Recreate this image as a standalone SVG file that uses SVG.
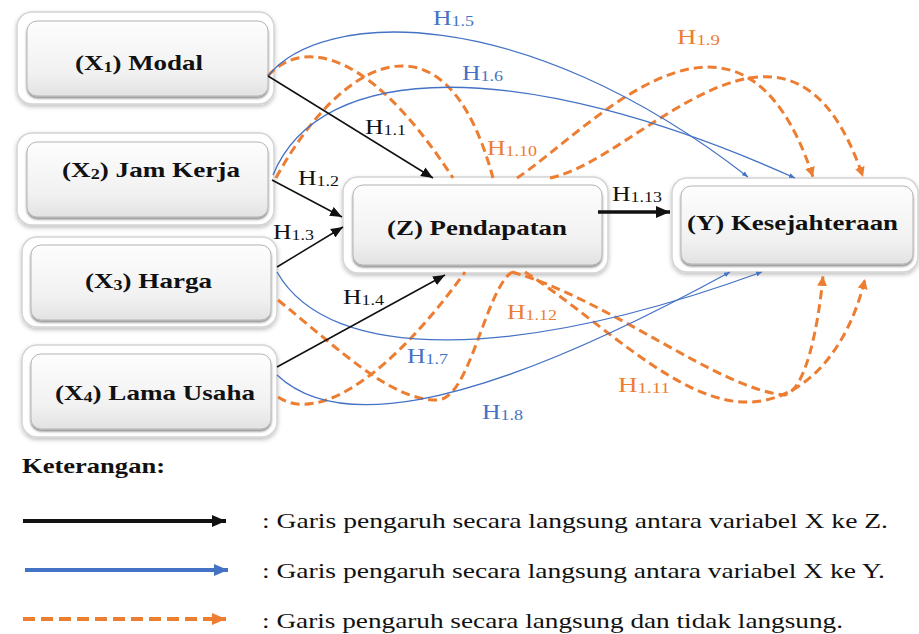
<svg xmlns="http://www.w3.org/2000/svg" width="919" height="634" viewBox="0 0 919 634">
<style>
.outer{fill:#fff;stroke:#d4d4d4;stroke-width:1.5;filter:url(#sh)}
.inner{fill:url(#gr);stroke:#b5b5b5;stroke-width:1;filter:url(#sh2)}
text{font-family:'Liberation Serif','DejaVu Serif','Noto Serif',serif}
.nl{font-weight:bold;font-size:21px;fill:#111}
.lb{font-size:20px}
.k{fill:#111}.b{fill:#4472C4}.o{fill:#ED7D31}
.ek{fill:none;stroke:#111;stroke-width:1.5}
.eb{fill:none;stroke:#4472C4;stroke-width:1.3}
.eo{fill:none;stroke:#ED7D31;stroke-width:3;stroke-dasharray:9 5}
.lg{font-size:22px;fill:#111}
</style>
<defs>
<linearGradient id="gr" x1="0" y1="0" x2="0" y2="1">
<stop offset="0" stop-color="#fdfdfd"/><stop offset="0.7" stop-color="#f1f1f1"/><stop offset="1" stop-color="#e2e2e2"/>
</linearGradient>
<filter id="sh" x="-10%" y="-10%" width="120%" height="130%"><feDropShadow dx="0" dy="2" stdDeviation="2" flood-color="#000" flood-opacity="0.25"/></filter>
<filter id="sh2" x="-10%" y="-10%" width="120%" height="130%"><feDropShadow dx="0" dy="2" stdDeviation="1" flood-color="#000" flood-opacity="0.45"/></filter>
<marker id="ak" markerUnits="userSpaceOnUse" markerWidth="12" markerHeight="10" refX="12" refY="5" orient="auto"><path d="M0,0 L12,5 L0,10 z" fill="#111"/></marker>
<marker id="akB" markerUnits="userSpaceOnUse" markerWidth="14" markerHeight="12" refX="14" refY="6" orient="auto"><path d="M0,0 L14,6 L0,12 z" fill="#111"/></marker>
<marker id="ab" markerUnits="userSpaceOnUse" markerWidth="6" markerHeight="5" refX="6" refY="2.5" orient="auto"><path d="M0,0 L6,2.5 L0,5 z" fill="#4472C4"/></marker>
<marker id="abB" markerUnits="userSpaceOnUse" markerWidth="14" markerHeight="12" refX="14" refY="6" orient="auto"><path d="M0,0 L14,6 L0,12 z" fill="#4472C4"/></marker>
<marker id="ao" markerUnits="userSpaceOnUse" markerWidth="10" markerHeight="10" refX="10" refY="5" orient="auto"><path d="M0,0 L10,5 L0,10 z" fill="#ED7D31"/></marker>
<marker id="aoB" markerUnits="userSpaceOnUse" markerWidth="14" markerHeight="12" refX="14" refY="6" orient="auto"><path d="M0,0 L14,6 L0,12 z" fill="#ED7D31"/></marker>
</defs>

<g id="nodeX1"><rect class="outer" x="17" y="12" width="257" height="92" rx="15"/><rect class="inner" x="27" y="21" width="241" height="75" rx="10"/>
<text class="nl" x="75" y="70" textLength="128" lengthAdjust="spacingAndGlyphs">(X<tspan font-size="14" dy="2">1</tspan><tspan dy="-2">) Modal</tspan></text></g>
<g id="nodeX2"><rect class="outer" x="17" y="133" width="257" height="92" rx="15"/><rect class="inner" x="27" y="142" width="241" height="75" rx="10"/>
<text class="nl" x="62" y="177" textLength="178" lengthAdjust="spacingAndGlyphs">(X<tspan font-size="14" dy="2">2</tspan><tspan dy="-2">) Jam Kerja</tspan></text></g>
<g id="nodeX3"><rect class="outer" x="22" y="237" width="255" height="90" rx="15"/><rect class="inner" x="31" y="245" width="240" height="75" rx="10"/>
<text class="nl" x="85" y="288" textLength="127" lengthAdjust="spacingAndGlyphs">(X<tspan font-size="14" dy="2">3</tspan><tspan dy="-2">) Harga</tspan></text></g>
<g id="nodeX4"><rect class="outer" x="22" y="345" width="255" height="92" rx="15"/><rect class="inner" x="31" y="354" width="240" height="75" rx="10"/>
<text class="nl" x="55" y="400" textLength="200" lengthAdjust="spacingAndGlyphs">(X<tspan font-size="14" dy="2">4</tspan><tspan dy="-2">) Lama Usaha</tspan></text></g>
<g id="nodeZ"><rect class="outer" x="343" y="177" width="265" height="96" rx="15"/><rect class="inner" x="353" y="185" width="249" height="80" rx="10"/>
<text class="nl" x="387" y="235" textLength="180" lengthAdjust="spacingAndGlyphs">(Z) Pendapatan</text></g>
<g id="nodeY"><rect class="outer" x="672" y="178" width="246" height="94" rx="15"/><rect class="inner" x="681" y="186" width="232" height="78" rx="10"/>
<text class="nl" x="687" y="230" textLength="211" lengthAdjust="spacingAndGlyphs">(Y) Kesejahteraan</text></g>

<g id="connectors">
<path class="eo" d="M268,76 C295,45 360,35 453,178"/>
<path class="eo" d="M276,178 C340,60 445,0 493,178"/>
<path class="eo" d="M517,178 C590,130 740,-45 813,177" marker-end="url(#ao)"/>
<path class="eo" d="M550,178 C640,160 790,-40 863,177" marker-end="url(#ao)"/>
<path class="eo" d="M278,300 C340,350 390,400 437,400 C470,400 485,290 512,272"/>
<path class="eo" d="M278,397 C320,425 395,370 465,272"/>
<path class="eo" d="M512,272 C610,300 720,390 785,395 C805,390 818,330 823,276" marker-end="url(#ao)"/>
<path class="eo" d="M525,272 C600,320 680,405 750,402 C805,400 848,350 865,279" marker-end="url(#ao)"/>
<path class="eb" d="M268,76 C320,10 520,0 748,177" marker-end="url(#ab)"/>
<path class="eb" d="M273,175 C320,60 520,55 795,178" marker-end="url(#ab)"/>
<path class="eb" d="M277,272 C330,365 520,360 762,272" marker-end="url(#ab)"/>
<path class="eb" d="M277,375 C330,425 450,425 730,272" marker-end="url(#ab)"/>
<path class="ek" d="M268,76 L433,178" marker-end="url(#ak)"/>
<path class="ek" d="M272,180 L342,217" marker-end="url(#ak)"/>
<path class="ek" d="M277,267 L343,227" marker-end="url(#ak)"/>
<path class="ek" d="M277,367 L445,275" marker-end="url(#ak)"/>
<path class="ek" d="M598,212 L670,212" style="stroke-width:3.5" marker-end="url(#akB)"/>
<text class="lb k" x="365" y="134" textLength="41" lengthAdjust="spacingAndGlyphs">H<tspan font-size="14" dy="1">1.1</tspan></text>
<text class="lb k" x="298" y="185" textLength="41" lengthAdjust="spacingAndGlyphs">H<tspan font-size="14" dy="1">1.2</tspan></text>
<text class="lb k" x="273" y="239" textLength="41" lengthAdjust="spacingAndGlyphs">H<tspan font-size="14" dy="1">1.3</tspan></text>
<text class="lb k" x="343" y="304" textLength="41" lengthAdjust="spacingAndGlyphs">H<tspan font-size="14" dy="1">1.4</tspan></text>
<text class="lb b" x="433" y="25" textLength="41" lengthAdjust="spacingAndGlyphs">H<tspan font-size="14" dy="1">1.5</tspan></text>
<text class="lb b" x="462" y="80" textLength="41" lengthAdjust="spacingAndGlyphs">H<tspan font-size="14" dy="1">1.6</tspan></text>
<text class="lb b" x="407" y="363" textLength="41" lengthAdjust="spacingAndGlyphs">H<tspan font-size="14" dy="1">1.7</tspan></text>
<text class="lb b" x="482" y="419" textLength="41" lengthAdjust="spacingAndGlyphs">H<tspan font-size="14" dy="1">1.8</tspan></text>
<text class="lb o" x="677" y="44" textLength="43" lengthAdjust="spacingAndGlyphs">H<tspan font-size="14" dy="1">1.9</tspan></text>
<text class="lb o" x="487" y="155" textLength="50" lengthAdjust="spacingAndGlyphs">H<tspan font-size="14" dy="1">1.10</tspan></text>
<text class="lb o" x="618" y="392" textLength="52" lengthAdjust="spacingAndGlyphs">H<tspan font-size="14" dy="1">1.11</tspan></text>
<text class="lb o" x="507" y="319" textLength="50" lengthAdjust="spacingAndGlyphs">H<tspan font-size="14" dy="1">1.12</tspan></text>
<text class="lb k" x="612" y="201" textLength="50" lengthAdjust="spacingAndGlyphs">H<tspan font-size="14" dy="1">1.13</tspan></text>
</g>

<g id="legend">
<text class="lg" x="22" y="473" font-weight="bold" font-size="20" textLength="143" lengthAdjust="spacingAndGlyphs">Keterangan:</text>
<line x1="23" y1="521" x2="226" y2="521" stroke="#111" stroke-width="4" marker-end="url(#akB)"/>
<line x1="25" y1="570" x2="228" y2="570" stroke="#4472C4" stroke-width="4" marker-end="url(#abB)"/>
<line x1="23" y1="619" x2="226" y2="619" stroke="#ED7D31" stroke-width="4" stroke-dasharray="12 6" marker-end="url(#aoB)"/>
<text class="lg" x="262" y="528" textLength="626" lengthAdjust="spacingAndGlyphs">: Garis pengaruh secara langsung antara variabel X ke Z.</text>
<text class="lg" x="262" y="578" textLength="623" lengthAdjust="spacingAndGlyphs">: Garis pengaruh secara langsung antara variabel X ke Y.</text>
<text class="lg" x="262" y="628" textLength="581" lengthAdjust="spacingAndGlyphs">: Garis pengaruh secara langsung dan tidak langsung.</text>
</g>
</svg>
